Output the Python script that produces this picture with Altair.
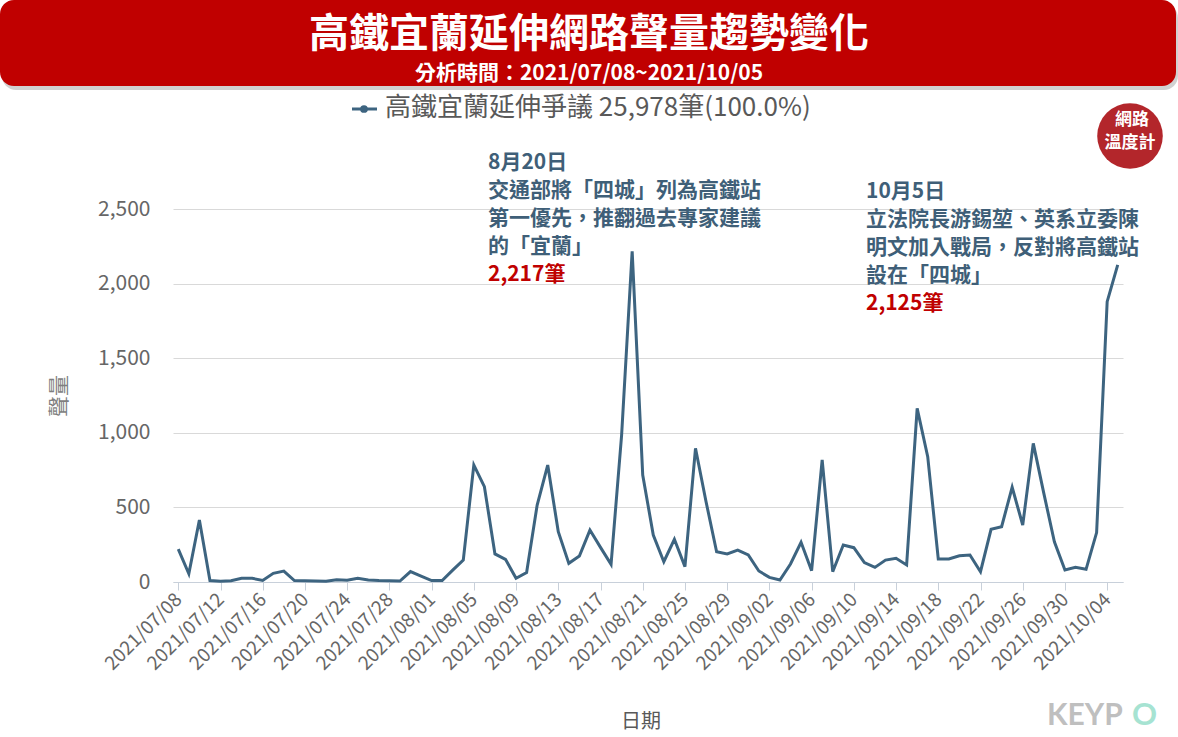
import altair as alt
import pandas as pd

# Daily mention counts, 2021/07/08 – 2021/10/05
dates = pd.date_range("2021-07-08", "2021-10-05", freq="D").strftime("%Y/%m/%d").tolist()
values = [
    220, 55, 415, 10, 5, 8, 25, 25, 10, 58, 73, 10, 8, 6, 5, 15, 12, 25, 14, 10,
    8, 6, 70, 40, 10, 10, 80, 147, 784, 639, 188, 152, 25, 63, 516, 784, 337, 125,
    174, 348, 232, 118, 985, 2217, 717, 315, 136, 286, 103, 896, 538, 203, 188, 214,
    181, 74, 31, 13, 121, 266, 76, 818, 69, 248, 230, 130, 98, 147, 159, 114, 1164,
    840, 154, 154, 176, 181, 69, 353, 371, 635, 382, 929, 594, 270, 80, 98, 85, 331,
    1879, 2125,
]
series_name = "高鐵宜蘭延伸爭議"
total_mentions = 25978

title_text = "高鐵宜蘭延伸網路聲量趨勢變化"
subtitle_text = "分析時間：2021/07/08~2021/10/05"

event1_date = "2021/08/20"
event1_lines = ["8月20日", "交通部將「四城」列為高鐵站", "第一優先，推翻過去專家建議", "的「宜蘭」"]
event2_date = "2021/10/05"
event2_lines = ["10月5日", "立法院長游錫堃、英系立委陳", "明文加入戰局，反對將高鐵站", "設在「四城」"]

y_ticks = [0, 500, 1000, 1500, 2000, 2500]
x_tick_step = 4

FONT = "Noto Sans CJK TC"
LINE_COLOR = "#3D6480"
NOTE_COLOR = "#3F5F78"
RED = "#C00000"

W, H = 950, 373
PAD = {"left": 173, "top": 209, "right": 55, "bottom": 155}

df = pd.DataFrame({"date": dates, "value": values})
df["day"] = range(len(df))

val1 = values[dates.index(event1_date)]
val2 = values[dates.index(event2_date)]

x_enc = alt.X(
    "day:Q",
    scale=alt.Scale(domain=[-0.5, len(dates) - 0.5], nice=False, zero=False),
    axis=alt.Axis(
        values=list(range(0, len(dates), x_tick_step)),
        labelExpr="timeFormat(datetime(2021, 6, 8 + datum.value), '%Y/%m/%d')",
        labelAngle=-45,
        labelAlign="right",
        labelBaseline="middle",
        labelOverlap=False,
        labelFont=FONT,
        labelFontSize=19,
        labelColor="#666666",
        labelPadding=6,
        grid=False,
        domainColor="#C8D0DA",
        tickColor="#C8D0DA",
        tickSize=8,
        title=None,
    ),
)
y_enc = alt.Y(
    "value:Q",
    scale=alt.Scale(domain=[0, 2500], nice=False),
    axis=alt.Axis(
        values=y_ticks,
        format=",.0f",
        labelFont=FONT,
        labelFontSize=21,
        labelColor="#666666",
        labelPadding=23,
        ticks=False,
        domain=False,
        gridColor="#D9D9D9",
        title=None,
    ),
)

line = alt.Chart(df).mark_line(color=LINE_COLOR, strokeWidth=3).encode(x=x_enc, y=y_enc)


def one():
    return alt.Chart(pd.DataFrame({"k": [0]}))


def label(text, x, y, size, color, weight="normal", align="left", angle=0,
          font=FONT, baseline="middle"):
    kw = dict(text=text, font=font, fontSize=size, color=color, fontWeight=weight,
              align=align, baseline=baseline)
    if angle:
        kw["angle"] = angle
    return one().mark_text(**kw).encode(x=alt.value(x), y=alt.value(y))


ox, oy = PAD["left"], PAD["top"]
layers = [line]

# Title banner
layers.append(one().mark_rect(color="#000000", opacity=0.18, cornerRadius=14).encode(
    x=alt.value(2 - ox), x2=alt.value(1178 - ox), y=alt.value(4 - oy), y2=alt.value(90 - oy)))
layers.append(one().mark_rect(color=RED, cornerRadius=14).encode(
    x=alt.value(0 - ox), x2=alt.value(1176 - ox), y=alt.value(0 - oy), y2=alt.value(86 - oy)))
layers.append(label(title_text, 589 - ox, 47 - oy, 40, "white", "bold", "center",
                    baseline="alphabetic"))
layers.append(label(subtitle_text, 589 - ox, 74 - oy, 21, "white", "bold", "center"))

# Legend
layers.append(one().mark_rule(color=LINE_COLOR, strokeWidth=3).encode(
    x=alt.value(352 - ox), x2=alt.value(377 - ox), y=alt.value(109 - oy)))
layers.append(one().mark_point(color=LINE_COLOR, filled=True, opacity=1, size=60).encode(
    x=alt.value(364 - ox), y=alt.value(109 - oy)))
layers.append(label(f"{series_name} {total_mentions:,}筆({100:.1f}%)", 385 - ox, 108 - oy, 26, "#595959"))

# Logo badge
layers.append(one().mark_circle(color="#B3262B", opacity=1, size=3.1416 * 37 * 37).encode(
    x=alt.value(1130 - ox), y=alt.value(136 - oy)))
layers.append(label("網路", 1132 - ox, 120 - oy, 17, "white", "bold", "center"))
layers.append(label("溫度計", 1130 - ox, 143 - oy, 17, "white", "bold", "center"))

# Event annotations
for i, t in enumerate(event1_lines):
    layers.append(label(t, 488 - ox, 163 + 28 * i - oy, 21, NOTE_COLOR, "bold"))
layers.append(label(f"{val1:,}筆", 488 - ox, 163 + 28 * 4 - oy, 21, RED, "bold"))
for i, t in enumerate(event2_lines):
    layers.append(label(t, 866 - ox, 192 + 28 * i - oy, 21, NOTE_COLOR, "bold"))
layers.append(label(f"{val2:,}筆", 866 - ox, 192 + 28 * 4 - oy, 21, RED, "bold"))

# Axis titles
layers.append(label("聲量", 60 - ox, 396 - oy, 21, "#7F7F7F", "normal", "center", angle=270))
layers.append(label("日期", 641 - ox, 722 - oy, 20, "#595959", "normal", "center"))

# Watermark
layers.append(label("KEYP", 1047 - ox, 716 - oy, 30, "#BFBFBF", "bold", "left", font="Lato"))
layers.append(label("O", 1132 - ox, 716 - oy, 31, "#A6E3D2", "bold", "left", font="Lato"))

chart = alt.layer(*layers).properties(
    width=W,
    height=H,
    autosize=alt.AutoSizeParams(type="none"),
    padding=PAD,
    background="white",
).configure_view(stroke=None)

chart.save("out.html", embed_options={"renderer": "svg", "actions": False})
